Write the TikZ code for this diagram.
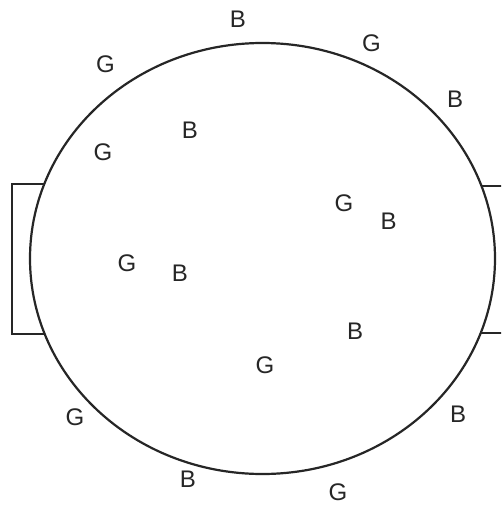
\documentclass[tikz,border=0pt]{standalone}
\usepackage{fontspec}
\setmainfont{Liberation Sans}
\begin{document}
\begin{tikzpicture}[x=1pt,y=-1pt,
  lbl/.style={font=\fontsize{24}{24}\selectfont, inner sep=0pt, text=black!85},
  outline/.style={draw=black!85, line width=2.2pt}]
\path[use as bounding box] (0,0) rectangle (501,506);
\clip (0,0) rectangle (501,506);
\fill[white] (0,0) rectangle (501,506);
% side tabs
\draw[outline] (60,184) -- (12,184) -- (12,334) -- (60,334);
\draw[outline] (440,186) -- (510,186) -- (510,333) -- (440,333);
% ellipse
\coordinate (c) at (262.5,258.5);
\filldraw[outline, fill=white] (c) ellipse [x radius=232.5, y radius=215.5];
% labels
\node[lbl] (l1) at (238,19) {B};
\node[lbl] (l2) at (371.5,43) {G};
\node[lbl] (l3) at (455,99) {B};
\node[lbl] (l4) at (105.5,64) {G};
\node[lbl] (l5) at (190,130) {B};
\node[lbl] (l6) at (103,152) {G};
\node[lbl] (l7) at (344,203) {G};
\node[lbl] (l8) at (388.5,221) {B};
\node[lbl] (l9) at (127,263) {G};
\node[lbl] (l10) at (180,273) {B};
\node[lbl] (l11) at (355,331) {B};
\node[lbl] (l12) at (265,365) {G};
\node[lbl] (l13) at (75,417) {G};
\node[lbl] (l14) at (458,414) {B};
\node[lbl] (l15) at (188,479) {B};
\node[lbl] (l16) at (338,492) {G};
\end{tikzpicture}
\end{document}
